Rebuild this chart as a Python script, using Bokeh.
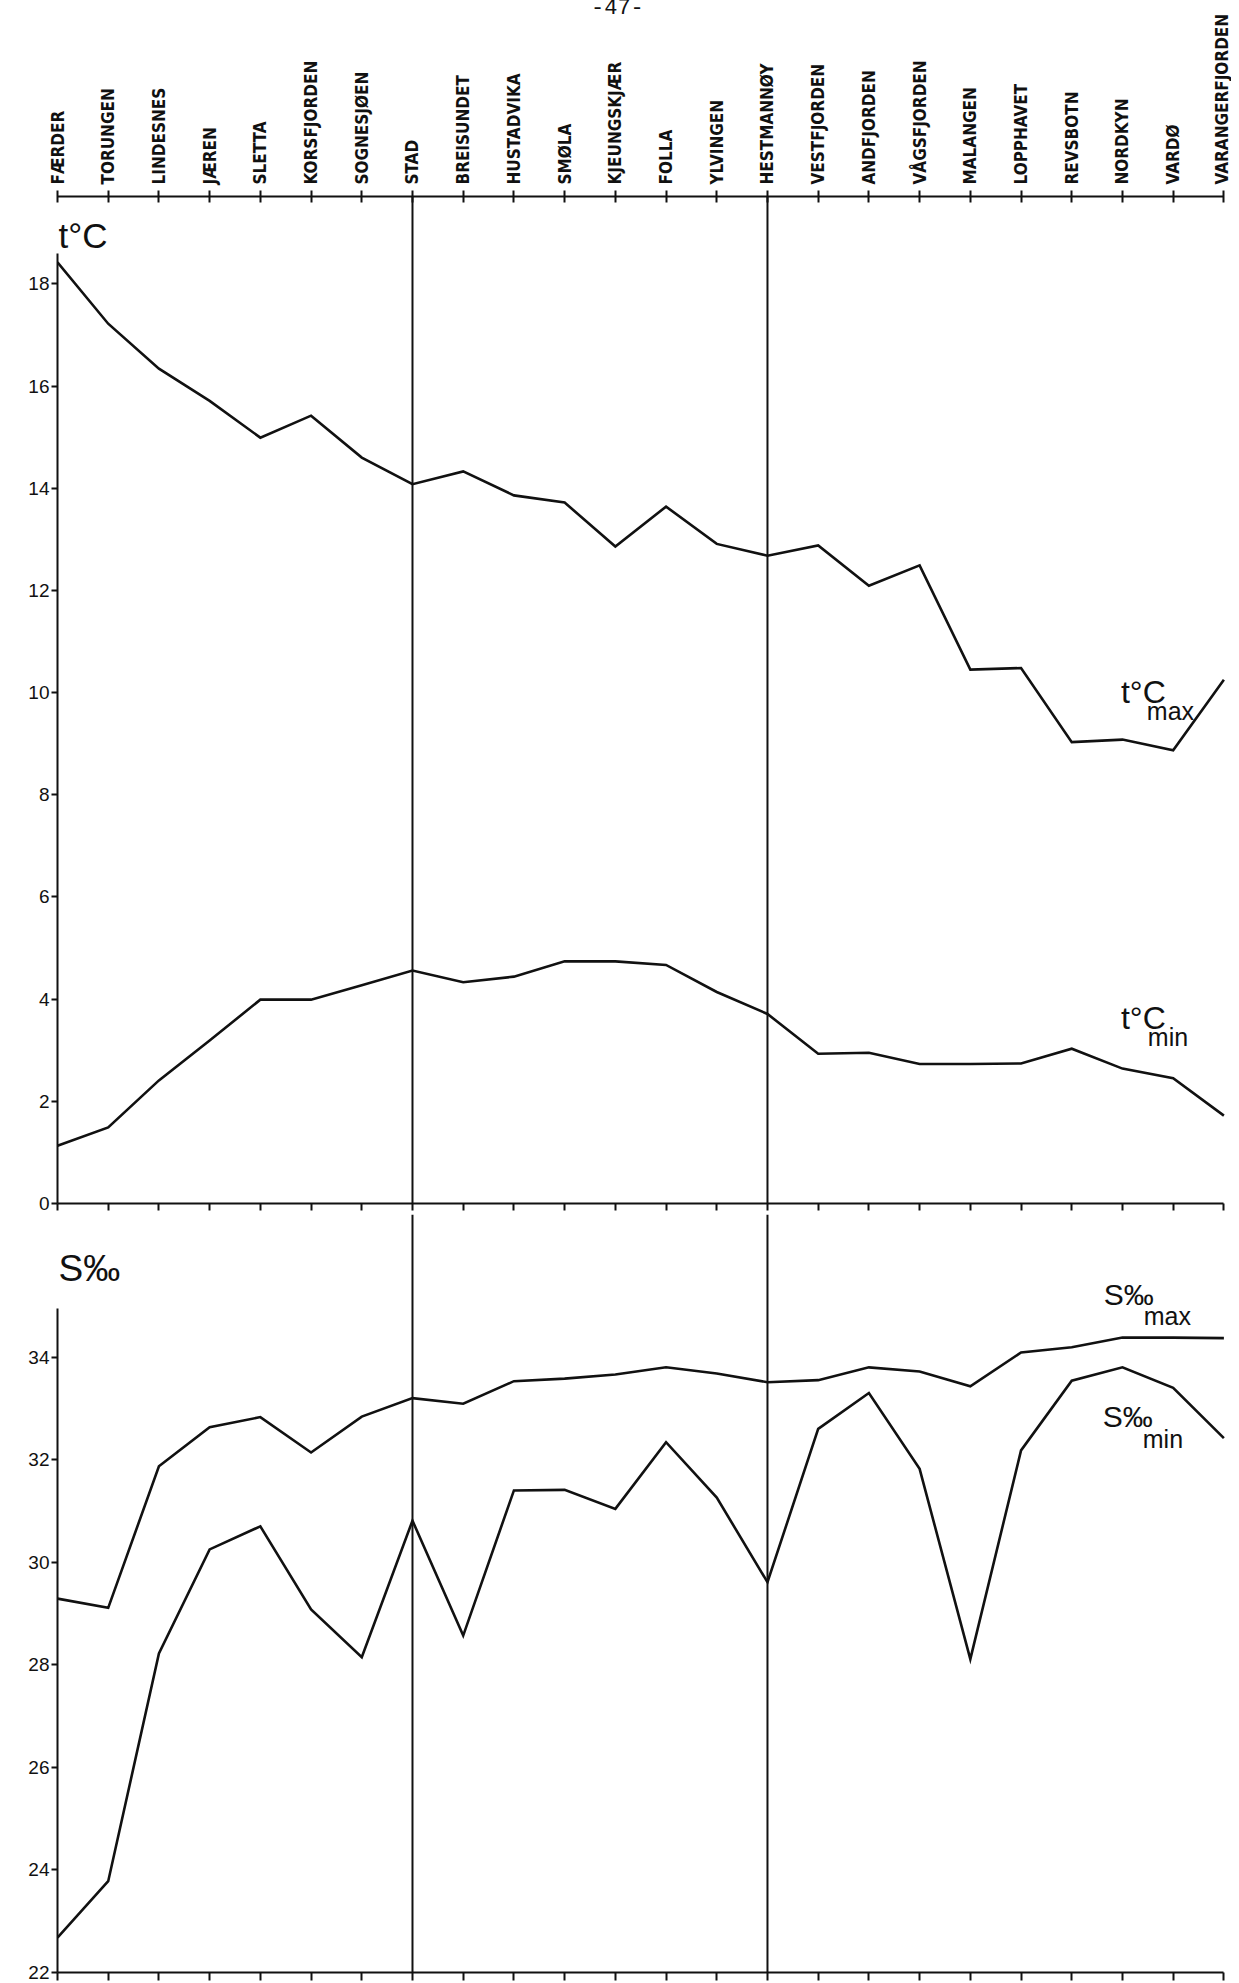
from bokeh.plotting import figure
from bokeh.models import Range1d, LinearAxis, FixedTicker, Span, Label, Div
from bokeh.layouts import column
from bokeh.embed import file_html
from bokeh.resources import INLINE

# ---------------- data ----------------
stations = ["FÆRDER", "TORUNGEN", "LINDESNES", "JÆREN", "SLETTA", "KORSFJORDEN",
            "SOGNESJØEN", "STAD", "BREISUNDET", "HUSTADVIKA", "SMØLA", "KJEUNGSKJÆR",
            "FOLLA", "YLVINGEN", "HESTMANNØY", "VESTFJORDEN", "ANDFJORDEN",
            "VÅGSFJORDEN", "MALANGEN", "LOPPHAVET", "REVSBOTN", "NORDKYN", "VARDØ",
            "VARANGERFJORDEN"]
t_max = [18.42, 17.22, 16.34, 15.71, 14.99, 15.42, 14.60, 14.08, 14.33, 13.86, 13.72,
         12.86, 13.64, 12.91, 12.68, 12.88, 12.09, 12.49, 10.45, 10.48, 9.03, 9.08,
         8.87, 10.25]
t_min = [1.13, 1.49, 2.41, 3.19, 3.99, 3.99, 4.27, 4.56, 4.33, 4.44, 4.74, 4.74, 4.67,
         4.14, 3.71, 2.93, 2.95, 2.73, 2.73, 2.74, 3.03, 2.64, 2.45, 1.72]
s_max = [29.29, 29.11, 31.87, 32.63, 32.83, 32.14, 32.84, 33.20, 33.09, 33.53, 33.58,
         33.66, 33.80, 33.68, 33.51, 33.55, 33.80, 33.72, 33.43, 34.09, 34.19, 34.38,
         34.38, 34.37]
s_min = [22.68, 23.78, 28.22, 30.25, 30.70, 29.08, 28.15, 30.81, 28.57, 31.40, 31.41,
         31.04, 32.34, 31.26, 29.61, 32.60, 33.30, 31.82, 28.11, 32.18, 33.54, 33.80,
         33.40, 32.42]
t_ticks = [0, 2, 4, 6, 8, 10, 12, 14, 16, 18]
s_ticks = [22, 24, 26, 28, 30, 32, 34]
divider_stations = ["STAD", "HESTMANNØY"]
page_number = "-47-"

x = list(range(len(stations)))
last = len(stations) - 1

INK = "#111111"
LABEL_FONT = "'DejaVu Sans Condensed', 'DejaVu Sans', sans-serif"
NUM_FONT = "Liberation Sans"
TXT_FONT = "Liberation Sans"

W = 1231
LEFT = 57
x_range = Range1d(0, 23.15)


def station_axis(**kw):
    return LinearAxis(ticker=FixedTicker(ticks=x, minor_ticks=[]), bounds=(0, last),
                      axis_line_color=INK, axis_line_width=2,
                      major_tick_line_color=INK, major_tick_line_width=2,
                      minor_tick_in=0, minor_tick_out=0, **kw)


def bare_station_axis(tick_out):
    return station_axis(major_tick_in=0, major_tick_out=tick_out, major_label_standoff=0,
                        major_label_overrides={i: "" for i in x},
                        major_label_text_font_size="1px", major_label_text_color=None)


def value_axis(ticks, bounds):
    return LinearAxis(ticker=FixedTicker(ticks=ticks, minor_ticks=[]), bounds=bounds,
                      axis_line_color=INK, axis_line_width=2,
                      major_tick_line_color=INK, major_tick_line_width=2,
                      major_tick_in=0, major_tick_out=6, minor_tick_in=0, minor_tick_out=0,
                      major_label_standoff=2, major_label_text_font=NUM_FONT,
                      major_label_text_font_size="19px", major_label_text_color=INK)


def text(fig, xv, yv, s, size):
    fig.add_layout(Label(x=xv, y=yv, text=s, text_font=TXT_FONT, text_font_size=size,
                         text_color=INK, text_baseline="alphabetic", text_align="left"))


# ---------------- upper panel: temperature ----------------
p1 = figure(width=W, height=1214, output_backend="svg", toolbar_location=None,
            x_range=x_range, y_range=Range1d(0, 19.71),
            x_axis_location=None, y_axis_location=None,
            min_border_top=196, min_border_left=LEFT, min_border_right=0,
            min_border_bottom=11)
p1.outline_line_color = None
p1.grid.visible = False

top = station_axis(major_label_overrides={i: s for i, s in enumerate(stations)},
                   major_label_orientation="vertical", major_tick_in=6, major_tick_out=6,
                   major_label_standoff=6, major_label_text_font=LABEL_FONT,
                   major_label_text_font_size="17px", major_label_text_font_style="bold",
                   major_label_text_color=INK)
p1.add_layout(top, "above")
p1.add_layout(bare_station_axis(7), "below")
p1.add_layout(value_axis(t_ticks, (0, 18.6)), "left")

for name in divider_stations:
    p1.add_layout(Span(location=stations.index(name), dimension="height",
                       line_color=INK, line_width=2))

p1.line(x, t_max, line_color=INK, line_width=2.6, line_join="miter")
p1.line(x, t_min, line_color=INK, line_width=2.6, line_join="miter")

text(p1, 0.02, 18.95, "t°C", "35px")
text(p1, 20.97, 10.02, "t°C", "32px")
text(p1, 21.48, 9.63, "max", "25px")
text(p1, 20.97, 3.64, "t°C", "32px")
text(p1, 21.50, 3.25, "min", "25px")

# ---------------- lower panel: salinity ----------------
p2 = figure(width=W, height=768, output_backend="svg", toolbar_location=None,
            x_range=x_range, y_range=Range1d(22, 36.78),
            x_axis_location=None, y_axis_location=None,
            min_border_top=0, min_border_left=LEFT, min_border_right=0,
            min_border_bottom=10)
p2.outline_line_color = None
p2.grid.visible = False

p2.add_layout(bare_station_axis(8), "below")
p2.add_layout(value_axis(s_ticks, (22, 34.94)), "left")

for name in divider_stations:
    p2.add_layout(Span(location=stations.index(name), dimension="height",
                       line_color=INK, line_width=2))

p2.line(x, s_max, line_color=INK, line_width=2.6, line_join="miter")
p2.line(x, s_min, line_color=INK, line_width=2.6, line_join="miter")

text(p2, 0.02, 35.72, "S‰", "37px")
text(p2, 20.63, 35.22, "S‰", "30px")
text(p2, 21.42, 34.81, "max", "25px")
text(p2, 20.61, 32.84, "S‰", "30px")
text(p2, 21.40, 32.40, "min", "25px")

# page number of the scanned page, cut by the top edge
pagenum = Div(text=page_number, width=80, height=30,
              styles={"position": "absolute", "left": "586px", "top": "-12px",
                      "font-family": "'Liberation Mono', monospace", "font-size": "22px",
                      "color": INK, "z-index": "5"})

page = column(p1, p2, pagenum, spacing=0)
open("out.html", "w").write(file_html(page, INLINE))
